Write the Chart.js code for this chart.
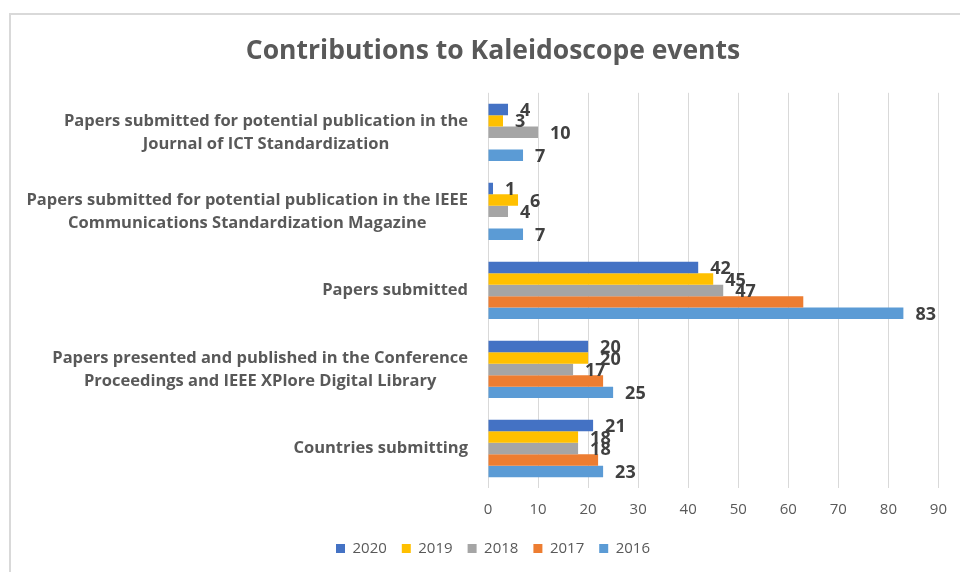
<!DOCTYPE html>
<html>
<head>
<meta charset="utf-8">
<script src="https://cdn.jsdelivr.net/npm/chart.js@4/dist/chart.umd.min.js"></script>
<style>
  html, body { margin: 0; padding: 0; background: #ffffff; }
  #wrap { width: 960px; height: 572px; position: relative; }
</style>
</head>
<body>
<div id="wrap"><canvas id="chart" width="960" height="572"></canvas></div>
<script>
// Category labels (one array of lines per category, top to bottom)
const categories = [
  ["Papers submitted for potential publication in the", "Journal of ICT Standardization"],
  ["Papers submitted for potential publication in the IEEE", "Communications Standardization Magazine"],
  ["Papers submitted"],
  ["Papers presented and published in the Conference", "Proceedings and IEEE XPlore Digital Library"],
  ["Countries submitting"]
];

// Series, in legend order
const years = ["2020", "2019", "2018", "2017", "2016"];
const values2020 = [4, 1, 42, 20, 21];
const values2019 = [3, 6, 45, 20, 18];
const values2018 = [10, 4, 47, 17, 18];
const values2017 = [null, null, 63, 23, 22];
const values2016 = [7, 7, 83, 25, 23];

// Years whose bars carry a value label
const labelledYears = ["2020", "2019", "2018", "2016"];

// Value axis ticks
const xTicks = [0, 10, 20, 30, 40, 50, 60, 70, 80, 90];

const seriesValues = [values2020, values2019, values2018, values2017, values2016];
const seriesColors = ["#4472C4", "#FFC000", "#A5A5A5", "#ED7D31", "#5B9BD5"];

const FONT = "'Open Sans', 'DejaVu Sans', sans-serif";
const TEXT_GREY = "#595959";

// Frame around the chart (open on the right and bottom edges)
const framePlugin = {
  id: "frame",
  beforeDraw(chart) {
    const ctx = chart.ctx;
    ctx.save();
    ctx.fillStyle = "#ffffff";
    ctx.fillRect(0, 0, chart.width, chart.height);
    ctx.strokeStyle = "#d9d9d9";
    ctx.lineWidth = 2;
    ctx.beginPath();
    ctx.moveTo(10, chart.height);
    ctx.lineTo(10, 14);
    ctx.lineTo(chart.width, 14);
    ctx.stroke();
    ctx.restore();
  }
};

// Category names: a block right-aligned against the plot, lines centred within it
const categoryLabelPlugin = {
  id: "categoryLabels",
  afterDraw(chart) {
    const ctx = chart.ctx;
    const yScale = chart.scales.y;
    const right = chart.chartArea.left - 20;
    const lineH = 23;
    ctx.save();
    ctx.font = "bold 16.5px " + FONT;
    ctx.fillStyle = TEXT_GREY;
    ctx.textAlign = "center";
    ctx.textBaseline = "middle";
    categories.forEach((lines, i) => {
      const cy = yScale.getPixelForValue(i);
      const maxW = Math.max(...lines.map(l => ctx.measureText(l).width));
      const cx = right - maxW / 2;
      const y0 = cy - (lines.length - 1) * lineH / 2;
      lines.forEach((l, k) => ctx.fillText(l, cx, y0 + k * lineH));
    });
    ctx.restore();
  }
};

// Value labels just past the end of each bar
const valueLabelPlugin = {
  id: "valueLabels",
  afterDatasetsDraw(chart) {
    const ctx = chart.ctx;
    ctx.save();
    ctx.font = "bold 18px " + FONT;
    ctx.fillStyle = "#404040";
    ctx.textAlign = "left";
    ctx.textBaseline = "middle";
    chart.data.datasets.forEach((ds, di) => {
      if (!labelledYears.includes(ds.label)) return;
      const meta = chart.getDatasetMeta(di);
      meta.data.forEach((bar, i) => {
        const v = ds.data[i];
        if (v === null || v === undefined) return;
        ctx.fillText(String(v), bar.x + 12, bar.y + 1.5);
      });
    });
    ctx.restore();
  }
};

new Chart(document.getElementById("chart"), {
  type: "bar",
  data: {
    labels: categories.map(c => c.join(" ")),
    datasets: years.map((y, i) => ({
      label: y,
      data: seriesValues[i],
      backgroundColor: seriesColors[i],
      borderWidth: 0,
      categoryPercentage: 0.725,
      barPercentage: 1.0
    }))
  },
  options: {
    indexAxis: "y",
    responsive: false,
    animation: false,
    layout: { padding: { left: 46, right: 20, top: 0, bottom: 6 } },
    scales: {
      x: {
        min: 0,
        max: 90,
        afterBuildTicks(scale) { scale.ticks = xTicks.map(v => ({ value: v })); },
        afterFit(scale) { scale.height -= 6; },
        grid: { color: "#d9d9d9", lineWidth: 1, drawTicks: false },
        border: { display: false },
        ticks: { color: TEXT_GREY, font: { family: FONT, size: 15 }, padding: 13 }
      },
      y: {
        grid: { display: false },
        border: { display: false },
        ticks: { display: false },
        afterFit(scale) { scale.width = 442; }
      }
    },
    plugins: {
      title: {
        display: true,
        text: "Contributions to Kaleidoscope events",
        color: TEXT_GREY,
        font: { family: FONT, size: 26.5, weight: "bold" },
        padding: { top: 36, bottom: 25 }
      },
      legend: {
        position: "bottom",
        labels: {
          color: TEXT_GREY,
          font: { family: FONT, size: 15 },
          boxWidth: 9,
          boxHeight: 9,
          padding: 15
        }
      },
      tooltip: { enabled: false }
    }
  },
  plugins: [framePlugin, categoryLabelPlugin, valueLabelPlugin]
});
</script>
</body>
</html>
